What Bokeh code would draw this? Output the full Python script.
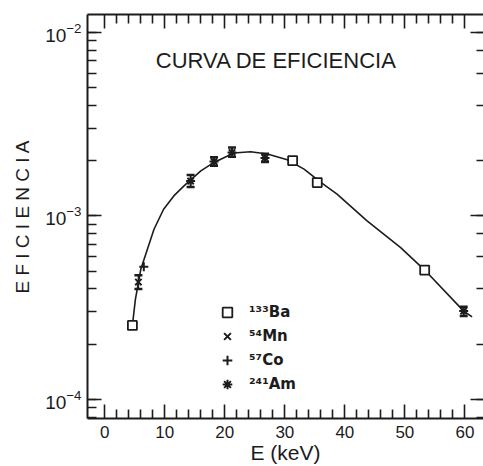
from bokeh.plotting import figure
from bokeh.models import (LogAxis, LinearAxis, FixedTicker, LogTicker, Range1d, Label,
                          Legend, LegendItem, Whisker, ColumnDataSource, TeeHead,
                          CustomJSTickFormatter)
from bokeh.embed import file_html
from bokeh.resources import INLINE

# ---------------- data ----------------
x_ticks = [0, 10, 20, 30, 40, 50, 60]
x_tick_labels = ["0", "10", "20", "30", "40", "50", "60"]
x_minor_ticks = [2, 4, 6, 8, 12, 14, 16, 18, 22, 24, 26, 28, 32, 34, 36, 38,
                 42, 44, 46, 48, 52, 54, 56, 58]

# fitted efficiency curve
curve_e = [4.6, 5.1, 6.0, 7.1, 8.2, 9.8, 11.5, 13.2, 16.0, 18.2, 21.5, 24.3,
           27.1, 30.4, 33.2, 36.0, 38.7, 43.7, 49.3, 53.3, 59.8, 61.2]
curve_eff = [2.53e-4, 3.51e-4, 5.12e-4, 6.58e-4, 8.46e-4, 1.088e-3, 1.286e-3,
             1.459e-3, 1.762e-3, 1.958e-3, 2.204e-3, 2.239e-3, 2.174e-3,
             2.023e-3, 1.799e-3, 1.523e-3, 1.315e-3, 9.4e-4, 6.72e-4, 5.07e-4,
             3.03e-4, 2.82e-4]

# 133Ba
ba_e = [4.6, 31.3, 35.4, 53.3]
ba_eff = [2.53e-4, 2.0e-3, 1.52e-3, 5.07e-4]
# 54Mn
mn_e = [5.6]
mn_eff = [4.36e-4]
mn_lo = [4.0e-4]
mn_hi = [4.75e-4]
# 57Co
co_e = [6.5]
co_eff = [5.28e-4]
# 241Am
am_e = [14.3, 18.2, 21.2, 26.7, 59.8]
am_eff = [1.55e-3, 1.98e-3, 2.22e-3, 2.07e-3, 3.03e-4]
am_lo = [1.44e-3, 1.88e-3, 2.10e-3, 1.97e-3, 2.85e-4]
am_hi = [1.67e-3, 2.09e-3, 2.36e-3, 2.18e-3, 3.20e-4]

legend_labels = ["\u00b9\u00b3\u00b3Ba", "\u2075\u2074Mn", "\u2075\u2077Co", "\u00b2\u2074\u00b9Am"]

# ---------------- styling ----------------
INK = "#1c1c1c"
FONT = "Liberation Sans"

p = figure(width=483, height=466, y_axis_type="log",
           x_range=Range1d(-2.88, 63.1), y_range=Range1d(7.87e-5, 1.253e-2),
           output_backend="svg", toolbar_location=None,
           min_border_left=87, min_border_top=14, min_border_right=0,
           min_border_bottom=10)
p.grid.visible = False
p.outline_line_color = None
p.background_fill_color = "white"
p.border_fill_color = "white"


def style_axis(ax):
    ax.axis_line_color = INK
    ax.axis_line_width = 2
    ax.major_tick_in = 14
    ax.major_tick_out = 0
    ax.minor_tick_in = 9
    ax.minor_tick_out = 0
    ax.major_tick_line_color = INK
    ax.major_tick_line_width = 1.6
    ax.minor_tick_line_color = INK
    ax.minor_tick_line_width = 1.6
    ax.major_label_text_font = FONT
    ax.major_label_text_color = INK
    ax.axis_label_text_font = FONT
    ax.axis_label_text_color = INK
    ax.axis_label_text_font_style = "normal"


# bottom axis
bx = p.below[0]
style_axis(bx)
bx.ticker = FixedTicker(ticks=x_ticks, minor_ticks=x_minor_ticks)
bx.major_label_overrides = dict(zip(x_ticks, x_tick_labels))
bx.major_label_text_font_size = "17px"
bx.major_label_standoff = 7
bx.axis_label = "E (keV)"
bx.axis_label_text_font_size = "21px"
bx.axis_label_standoff = 0

# left axis
ly = p.left[0]
style_axis(ly)
ly.major_label_text_font_size = "19px"
ly.major_label_standoff = 6
ly.axis_label = "E F I C I E N C I A"
ly.axis_label_text_font_size = "19px"
ly.axis_label_standoff = 9

# top axis (ticks only)
tx = LinearAxis(ticker=FixedTicker(ticks=x_ticks, minor_ticks=x_minor_ticks),
                formatter=CustomJSTickFormatter(code="return ''"))
style_axis(tx)
tx.major_label_text_font_size = "1px"
tx.major_label_standoff = 0
p.add_layout(tx, "above")

# right axis (ticks only, its line falls outside the scanned page)
ry = LogAxis(ticker=LogTicker(), formatter=CustomJSTickFormatter(code="return ''"))
style_axis(ry)
ry.major_label_text_font_size = "1px"
ry.major_label_standoff = 0
ry.axis_line_color = None
ry.major_tick_in = 13
ry.minor_tick_in = 7
p.add_layout(ry, "right")

# curve
p.line(curve_e, curve_eff, line_color=INK, line_width=1.6)

# error bars
am_src = ColumnDataSource(dict(x=am_e, lo=am_lo, hi=am_hi))
mn_src = ColumnDataSource(dict(x=mn_e, lo=mn_lo, hi=mn_hi))
for src in (am_src, mn_src):
    w = Whisker(base="x", lower="lo", upper="hi", source=src, dimension="height",
                line_color=INK, line_width=1.5,
                upper_head=TeeHead(size=8, line_color=INK, line_width=2.5),
                lower_head=TeeHead(size=8, line_color=INK, line_width=2.5))
    p.add_layout(w)

# points
r_ba = p.scatter(ba_e, ba_eff, marker="square", size=9, fill_color="white",
                 line_color=INK, line_width=1.8)
r_mn = p.scatter(mn_e, mn_eff, marker="x", size=9, line_color=INK, line_width=2)
r_co = p.scatter(co_e, co_eff, marker="cross", size=9, line_color=INK, line_width=2)
r_am = p.scatter(am_e, am_eff, marker="asterisk", size=9, line_color=INK, line_width=2)

legend = Legend(items=[LegendItem(label=legend_labels[0], renderers=[r_ba]),
                       LegendItem(label=legend_labels[1], renderers=[r_mn]),
                       LegendItem(label=legend_labels[2], renderers=[r_co]),
                       LegendItem(label=legend_labels[3], renderers=[r_am])],
                location=(128, 22), orientation="vertical",
                glyph_width=24, glyph_height=24, label_height=24, label_width=30,
                spacing=0, padding=0, margin=0, label_standoff=10,
                label_text_font="DejaVu Sans", label_text_font_size="15px",
                label_text_font_style="bold", label_text_color=INK,
                background_fill_alpha=0, border_line_color=None)
p.add_layout(legend)

title = Label(x=28.6, y=7.0e-3, text="CURVA DE EFICIENCIA", text_align="center",
              text_baseline="middle", text_font=FONT, text_font_size="22px",
              text_color=INK)
p.add_layout(title)

open("out.html", "w").write(file_html(p, INLINE))
